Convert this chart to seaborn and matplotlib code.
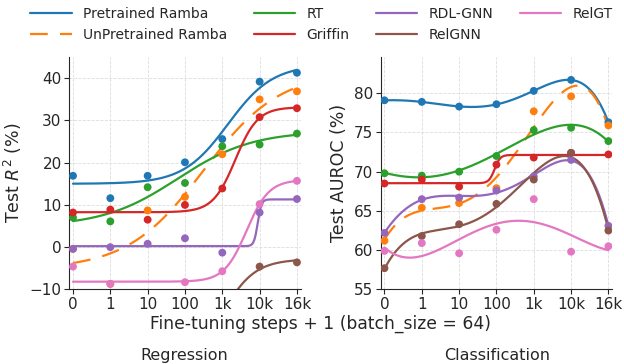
import numpy as np
import pandas as pd
import matplotlib
matplotlib.use("Agg")
import matplotlib.pyplot as plt
import seaborn as sns

# x positions are categorical fine-tuning steps
steps = ["0", "1", "10", "100", "1k", "10k", "16k"]
models = ["Pretrained Ramba", "UnPretrained Ramba", "RT", "Griffin",
          "RDL-GNN", "RelGNN", "RelGT"]

# Regression: test R^2 (%)
reg_pretrained = [16.9, 11.6, 16.9, 20.1, 25.6, 39.2, 41.3]
reg_unpretrained = [-0.4, -8.7, 8.7, 11.9, 22.0, 35.0, 36.9]
reg_rt = [7.0, 6.1, 14.2, 15.2, 23.9, 24.3, 26.9]
reg_griffin = [8.2, 8.9, 6.5, 10.0, 13.9, 30.8, 32.9]
reg_rdl = [-0.4, 0.0, 0.8, 2.1, -1.3, 8.2, 11.4]
reg_relgnn = [-30.0, -31.0, -29.0, -27.0, -16.0, -4.6, -3.6]
reg_relgt = [-4.6, -8.7, -11.0, -8.3, -5.7, 10.2, 15.7]

# Classification: test AUROC (%)
cls_pretrained = [79.1, 78.9, 78.3, 78.6, 80.3, 81.7, 76.3]
cls_unpretrained = [61.2, 65.4, 66.0, 67.9, 77.7, 79.6, 75.9]
cls_rt = [69.8, 69.5, 70.0, 72.0, 75.3, 75.6, 73.9]
cls_griffin = [68.5, 69.0, 68.1, 70.9, 71.8, 72.4, 72.2]
cls_rdl = [62.2, 66.5, 66.7, 67.6, 69.4, 71.5, 63.1]
cls_relgnn = [57.7, 61.8, 63.3, 65.9, 69.0, 72.4, 62.5]
cls_relgt = [59.9, 60.9, 59.6, 62.6, 66.5, 59.8, 60.5]

reg_data = [reg_pretrained, reg_unpretrained, reg_rt, reg_griffin,
            reg_rdl, reg_relgnn, reg_relgt]
cls_data = [cls_pretrained, cls_unpretrained, cls_rt, cls_griffin,
            cls_rdl, cls_relgnn, cls_relgt]
# curve type used for each classification series
cls_fit = ["poly5", "poly4", "poly4", "sigmoid", "poly5", "poly4", "poly4"]

colors = sns.color_palette("tab10", 7)
palette = dict(zip(models, colors))


def fit_sigmoid(x, y, xs):
    """Least squares logistic fit, grid over centre/scale, linear in a, b."""
    best = None
    for c in np.linspace(-1, 7, 161):
        for s in np.linspace(0.05, 2.0, 79):
            g = 1 / (1 + np.exp(-(x - c) / s))
            A = np.column_stack([np.ones_like(g), g])
            coef, *_ = np.linalg.lstsq(A, y, rcond=None)
            err = np.sum((A @ coef - y) ** 2)
            if best is None or err < best[0]:
                best = (err, c, s, coef)
    _, c, s, coef = best
    return coef[0] + coef[1] / (1 + np.exp(-(xs - c) / s))


def fit_curve(x, y, xs, kind):
    if kind == "sigmoid":
        return fit_sigmoid(x, y, xs)
    deg = int(kind[-1])
    return np.polyval(np.polyfit(x, y, deg), xs)


x = np.arange(len(steps), dtype=float)
xs = np.linspace(0, 6, 300)

sns.set_style("ticks")
plt.rcParams["font.family"] = ["DejaVu Sans"]

fig, axes = plt.subplots(1, 2, figsize=(6.24, 3.64), dpi=100)

for ax, data, kinds in [(axes[0], reg_data, ["sigmoid"] * 7),
                        (axes[1], cls_data, cls_fit)]:
    pts = []
    curves = []
    for name, vals, kind in zip(models, data, kinds):
        y = np.array(vals)
        pts.append(pd.DataFrame({"x": x, "y": y, "model": name}))
        curves.append(pd.DataFrame({"x": xs, "y": fit_curve(x, y, xs, kind),
                                    "model": name}))
    pts = pd.concat(pts)
    curves = pd.concat(curves)
    sns.lineplot(data=curves, x="x", y="y", hue="model", style="model",
                 palette=palette, hue_order=models, style_order=models,
                 dashes={m: ((8, 5.5) if m == "UnPretrained Ramba" else "")
                         for m in models},
                 linewidth=1.6, ax=ax, legend=(ax is axes[0]))
    sns.scatterplot(data=pts, x="x", y="y", hue="model", palette=palette,
                    hue_order=models, s=32, linewidth=0, ax=ax, legend=False,
                    zorder=3)
    ax.set_xticks(x)
    ax.set_xticklabels(steps)
    ax.set_xlim(-0.1, 6.1)
    ax.grid(True, linestyle="--", linewidth=0.6, color="#dddddd")
    ax.tick_params(labelsize=11, pad=2)
    ax.set_xlabel("")
    sns.despine(ax=ax)

axes[0].set_ylim(-10, 45)
axes[0].set_yticks([-10, 0, 10, 20, 30, 40])
axes[0].set_ylabel("Test $R^2$ (%)", fontsize=12.5)
axes[1].set_ylim(55, 84.6)
axes[1].set_yticks([55, 60, 65, 70, 75, 80])
axes[1].set_ylabel("Test AUROC (%)", fontsize=12.5)

handles, labels = axes[0].get_legend_handles_labels()
axes[0].get_legend().remove()
fig.legend(handles, labels, loc="upper center", ncol=4, frameon=False,
           fontsize=10, bbox_to_anchor=(0.515, 1.015), columnspacing=1.9,
           handlelength=3.0, labelspacing=0.5)

fig.subplots_adjust(left=0.111, right=0.981, top=0.843, bottom=0.205,
                    wspace=0.346)
fig.text(0.514, 0.11, "Fine-tuning steps + 1 (batch_size = 64)",
         ha="center", va="center", fontsize=12.3)
fig.text(0.296, 0.022, "Regression", ha="center", va="center", fontsize=11.5)
fig.text(0.796, 0.022, "Classification", ha="center", va="center",
         fontsize=11.5)

fig.savefig("out.png", dpi=100)
